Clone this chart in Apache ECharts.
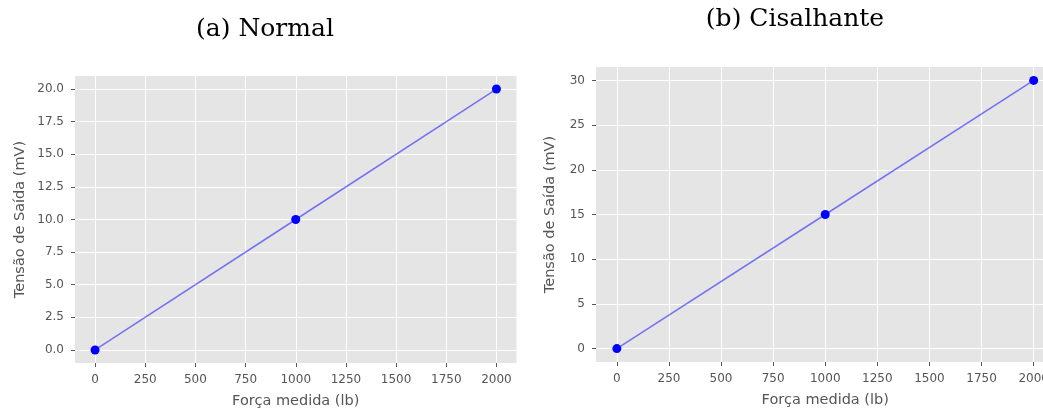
<!DOCTYPE html>
<html>
<head>
<meta charset="utf-8">
<script src="https://cdn.jsdelivr.net/npm/echarts@6/dist/echarts.min.js"></script>
<style>
  html, body { margin: 0; padding: 0; background: #fff; }
  #chart { width: 1043px; height: 410px; }
</style>
</head>
<body>
<div id="chart"></div>
<script>
// Measured force (lb) and output voltage (mV) for each bridge
const forceLb = [0, 1000, 2000];
const normalMv = [0, 10, 20];
const shearMv = [0, 15, 30];

// Tick positions
const forceTicks = [0, 250, 500, 750, 1000, 1250, 1500, 1750, 2000];
const normalTicks = [0, 2.5, 5, 7.5, 10, 12.5, 15, 17.5, 20];
const shearTicks = [0, 5, 10, 15, 20, 25, 30];

const titles = ['(a) Normal', '(b) Cisalhante'];
const xName = 'Força medida (lb)';
const yName = 'Tensão de Saída (mV)';

const GRAY = '#555555';
const SANS = 'DejaVu Sans';

function pairs(xs, ys) {
  return xs.map((x, i) => [x, ys[i]]);
}

// No spines; axes stay at the plot edges
const spine = { show: false, onZero: false };

function xAxisFor(gridIndex) {
  return {
    type: 'value', gridIndex: gridIndex,
    min: -100, max: 2100,
    name: xName, nameLocation: 'middle', nameGap: 31,
    nameTextStyle: { color: GRAY, fontFamily: SANS, fontSize: 14.5 },
    axisLine: spine,
    axisTick: { show: true, inside: false, customValues: forceTicks, length: 4, lineStyle: { color: GRAY, width: 1 } },
    axisLabel: { customValues: forceTicks, color: GRAY, fontFamily: SANS, fontSize: 12, margin: 11,
      formatter: v => String(v) },
    splitLine: { show: true, lineStyle: { color: '#ffffff', width: 1 } }
  };
}

function yAxisFor(gridIndex, min, max, ticks, decimals, gap) {
  return {
    type: 'value', gridIndex: gridIndex,
    min: min, max: max,
    name: yName, nameLocation: 'middle', nameGap: gap,
    nameTextStyle: { color: GRAY, fontFamily: SANS, fontSize: 14.5 },
    axisLine: spine,
    axisTick: { show: true, inside: false, customValues: ticks, length: 4, lineStyle: { color: GRAY, width: 1 } },
    axisLabel: {
      customValues: ticks, color: GRAY, fontFamily: SANS, fontSize: 12, margin: 11,
      formatter: v => v.toFixed(decimals)
    },
    splitLine: { show: true, lineStyle: { color: '#ffffff', width: 1 } }
  };
}

function seriesFor(index, ys) {
  return {
    type: 'line', xAxisIndex: index, yAxisIndex: index,
    data: pairs(forceLb, ys),
    symbol: 'circle', symbolSize: 9,
    itemStyle: { color: '#0000ff' },
    lineStyle: { color: 'rgba(0,0,255,0.5)', width: 1.5 },
    emphasis: { disabled: true },
    z: 3
  };
}

const chart = echarts.init(document.getElementById('chart'), null, { renderer: 'canvas' });
chart.setOption({
  animation: false,
  backgroundColor: '#ffffff',
  title: [
    { text: titles[0], left: 265, top: 17, textAlign: 'center', padding: 0,
      textStyle: { fontFamily: 'DejaVu Serif', fontWeight: 'normal', fontSize: 25, color: '#000' } },
    { text: titles[1], left: 795, top: 7, textAlign: 'center', padding: 0,
      textStyle: { fontFamily: 'DejaVu Serif', fontWeight: 'normal', fontSize: 25, color: '#000' } }
  ],
  grid: [
    { left: 75, top: 76, width: 441.5, height: 287, outerBoundsMode: 'none',
      show: true, backgroundColor: '#e5e5e5', borderWidth: 0 },
    { left: 596, top: 67, width: 458.5, height: 295, outerBoundsMode: 'none',
      show: true, backgroundColor: '#e5e5e5', borderWidth: 0 }
  ],
  xAxis: [xAxisFor(0), xAxisFor(1)],
  yAxis: [
    yAxisFor(0, -1, 21, normalTicks, 1, 47),
    yAxisFor(1, -1.5, 31.5, shearTicks, 0, 38)
  ],
  series: [seriesFor(0, normalMv), seriesFor(1, shearMv)]
});
</script>
</body>
</html>
